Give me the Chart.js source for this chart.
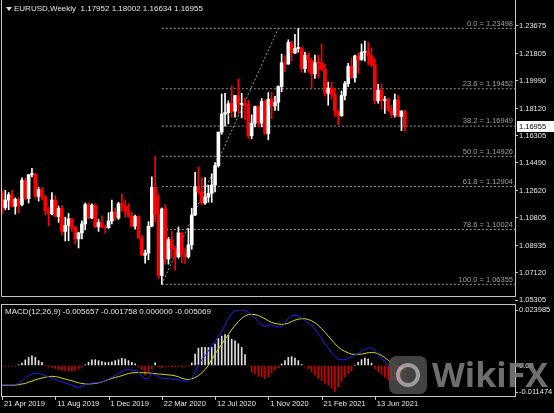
<!DOCTYPE html>
<html>
<head>
<meta charset="utf-8">
<title>EURUSD Weekly</title>
<script src="https://cdn.jsdelivr.net/npm/chart.js@4.4.1/dist/chart.umd.min.js"></script>
<style>
  html, body { margin: 0; padding: 0; background: #000; }
  body { width: 554px; height: 413px; position: relative; overflow: hidden; font-family: "Liberation Sans", Arial, sans-serif; }
  canvas { position: absolute; left: 0; }
  #priceChart { top: 0; }
  #macdChart { top: 300px; }
  .hdr { position: absolute; color: #e6e6e6; font-size: 8px; line-height: 10px; white-space: pre; }
  .tri { position: absolute; left: 6px; top: 7px; width: 0; height: 0;
         border-left: 3px solid transparent; border-right: 3px solid transparent; border-top: 4px solid #e0e0e0; }
  #wmLogo { position: absolute; left: 389px; top: 356px; width: 38px; height: 38px; border-radius: 7px;
            background: #4e4e4e; opacity: 0.85; }
  #wmLogo .ring { position: absolute; left: 7px; top: 7px; width: 16px; height: 16px; border-radius: 50%;
                  border: 4px solid #b8b8b8; }
  #wmText { position: absolute; left: 432px; top: 357px; font: bold 34px "Open Sans", sans-serif; line-height: 34px;
            color: #7a7a7a; opacity: 0.9; }
</style>
</head>
<body>
<canvas id="priceChart" width="554" height="306"></canvas>
<canvas id="macdChart" width="554" height="113"></canvas>
<div class="tri"></div>
<div class="hdr" style="left:14px;top:4px">EURUSD,Weekly  1.17952 1.18002 1.16634 1.16955</div>
<div class="hdr" style="left:5px;top:307px">MACD(12,26,9) -0.005657 -0.001758 0.000000 -0.005069</div>
<div id="wmLogo"><div class="ring"></div></div>
<div id="wmText">WikiFX</div>

<script>
// Weekly EURUSD candles, week of 21 Apr 2019 .. week of 15 Aug 2021
const opens = [
  1.1245, 1.1150, 1.1200, 1.1235, 1.1158, 1.1205, 1.1170, 1.1333, 1.1210, 1.1370,
  1.1372, 1.1225, 1.1270, 1.1220, 1.1128, 1.1108, 1.1200, 1.1090, 1.1145, 1.0990,
  1.1030, 1.1075, 1.1015, 1.0940, 1.0980, 1.1040, 1.1170, 1.1080, 1.1165, 1.1020,
  1.1050, 1.1020, 1.1015, 1.1060, 1.1120, 1.1080, 1.1175, 1.1160, 1.1120, 1.1090,
  1.1025, 1.1090, 1.0945, 1.0830, 1.0845, 1.1025, 1.1285, 1.1105, 1.0695, 1.1140,
  1.0805, 1.0935, 1.0875, 1.0820, 1.0980, 1.0840, 1.0820, 1.0900, 1.1100, 1.1290,
  1.1255, 1.1180, 1.1220, 1.1245, 1.1300, 1.1430, 1.1655, 1.1775, 1.1785, 1.1845,
  1.1795, 1.1900, 1.1840, 1.1845, 1.1840, 1.1630, 1.1715, 1.1825, 1.1715, 1.1860,
  1.1645, 1.1875, 1.1830, 1.1855, 1.1960, 1.2120, 1.2110, 1.2255, 1.2185, 1.2215,
  1.2220, 1.2080, 1.2170, 1.2135, 1.2045, 1.2120, 1.2120, 1.2075, 1.1915, 1.1950,
  1.1905, 1.1795, 1.1765, 1.1900, 1.1980, 1.2095, 1.2020, 1.2165, 1.2140, 1.2190,
  1.2195, 1.2165, 1.2105, 1.1865, 1.1935, 1.1865, 1.1875, 1.1805, 1.1770, 1.1870,
  1.1760, 1.17952
];
const highs = [
  1.1264, 1.1265, 1.1250, 1.1265, 1.1215, 1.1215, 1.1348, 1.1348, 1.1370, 1.1412,
  1.1380, 1.1286, 1.1285, 1.1230, 1.1150, 1.1250, 1.1230, 1.1160, 1.1165, 1.1085,
  1.1110, 1.1075, 1.1025, 1.0985, 1.1060, 1.1180, 1.1180, 1.1175, 1.1175, 1.1070,
  1.1095, 1.1030, 1.1115, 1.1200, 1.1145, 1.1185, 1.1240, 1.1200, 1.1175, 1.1120,
  1.1100, 1.1095, 1.0965, 1.0865, 1.1055, 1.1355, 1.1495, 1.1235, 1.1147, 1.1170,
  1.0950, 1.0990, 1.0890, 1.1020, 1.0980, 1.0875, 1.1010, 1.1145, 1.1385, 1.1420,
  1.1350, 1.1350, 1.1300, 1.1375, 1.1450, 1.1655, 1.1910, 1.1915, 1.1865, 1.1965,
  1.1900, 1.2011, 1.1915, 1.1883, 1.1870, 1.1770, 1.1830, 1.1830, 1.1880, 1.1870,
  1.1920, 1.1920, 1.1895, 1.1965, 1.2177, 1.2165, 1.2273, 1.2265, 1.2310, 1.2350,
  1.2220, 1.2190, 1.2185, 1.2150, 1.2170, 1.2170, 1.2245, 1.2110, 1.1990, 1.1990,
  1.1945, 1.1800, 1.1930, 1.1995, 1.2115, 1.2150, 1.2170, 1.2185, 1.2245, 1.2265,
  1.2255, 1.2220, 1.2145, 1.1975, 1.1975, 1.1895, 1.1880, 1.1835, 1.1910, 1.1900,
  1.1800, 1.18002
];
const lows = [
  1.1111, 1.1135, 1.1135, 1.1155, 1.1105, 1.1115, 1.1160, 1.1200, 1.1180, 1.1355,
  1.1210, 1.1193, 1.1200, 1.1101, 1.1027, 1.1100, 1.1090, 1.1050, 1.0965, 1.0926,
  1.0927, 1.0990, 1.0905, 1.0879, 1.0940, 1.1000, 1.1075, 1.1075, 1.1015, 1.0990,
  1.1015, 1.0980, 1.1010, 1.1040, 1.1065, 1.1070, 1.1125, 1.1085, 1.1085, 1.1020,
  1.1005, 1.0945, 1.0830, 1.0777, 1.0800, 1.1020, 1.1055, 1.0675, 1.0636, 1.0770,
  1.0770, 1.0815, 1.0730, 1.0810, 1.0780, 1.0775, 1.0810, 1.0870, 1.1095, 1.1240,
  1.1170, 1.1170, 1.1185, 1.1185, 1.1255, 1.1420, 1.1640, 1.1695, 1.1710, 1.1755,
  1.1755, 1.1780, 1.1750, 1.1735, 1.1612, 1.1610, 1.1690, 1.1690, 1.1690, 1.1640,
  1.1603, 1.1745, 1.1800, 1.1800, 1.1925, 1.2060, 1.2110, 1.2130, 1.2180, 1.2190,
  1.2055, 1.2055, 1.2055, 1.1950, 1.2015, 1.2020, 1.2065, 1.1895, 1.1835, 1.1875,
  1.1760, 1.1705, 1.1760, 1.1870, 1.1960, 1.2015, 1.1990, 1.2050, 1.2135, 1.2130,
  1.2105, 1.2095, 1.1845, 1.1848, 1.1807, 1.1780, 1.1795, 1.1752, 1.1755, 1.1760,
  1.1665, 1.16634
];
const closes = [
  1.1150, 1.1200, 1.1235, 1.1158, 1.1205, 1.1170, 1.1333, 1.1210, 1.1370, 1.1372,
  1.1225, 1.1270, 1.1220, 1.1128, 1.1108, 1.1200, 1.1090, 1.1145, 1.0990, 1.1030,
  1.1075, 1.1015, 1.0940, 1.0980, 1.1040, 1.1170, 1.1080, 1.1165, 1.1020, 1.1050,
  1.1020, 1.1015, 1.1060, 1.1120, 1.1080, 1.1175, 1.1160, 1.1120, 1.1090, 1.1025,
  1.1090, 1.0945, 1.0830, 1.0845, 1.1025, 1.1285, 1.1105, 1.0695, 1.1140, 1.0805,
  1.0935, 1.0875, 1.0820, 1.0980, 1.0840, 1.0820, 1.0900, 1.1100, 1.1290, 1.1255,
  1.1180, 1.1220, 1.1245, 1.1300, 1.1430, 1.1655, 1.1775, 1.1785, 1.1845, 1.1795,
  1.1900, 1.1840, 1.1845, 1.1840, 1.1630, 1.1715, 1.1825, 1.1715, 1.1860, 1.1645,
  1.1875, 1.1830, 1.1855, 1.1960, 1.2120, 1.2110, 1.2255, 1.2185, 1.2215, 1.2220,
  1.2080, 1.2170, 1.2135, 1.2045, 1.2120, 1.2118, 1.2075, 1.1915, 1.1950, 1.1905,
  1.1795, 1.1765, 1.1900, 1.1980, 1.2095, 1.2020, 1.2165, 1.2140, 1.2190, 1.2195,
  1.2165, 1.2105, 1.1865, 1.1935, 1.1865, 1.1875, 1.1805, 1.1770, 1.1870, 1.1760,
  1.1795, 1.16955
];

// MACD(12,26,9) panel, one value per week
const macdMain = [
  -0.0083, -0.0083, -0.0083, -0.0083, -0.0082, -0.0078, -0.0066, -0.0052, -0.0042, -0.0037,
  -0.0035, -0.0035, -0.0038, -0.0044, -0.0049, -0.0055, -0.0061, -0.0066, -0.0071, -0.0076,
  -0.0080, -0.0086, -0.0092, -0.0096, -0.0090, -0.0082, -0.0078, -0.0076, -0.0075, -0.0073,
  -0.0071, -0.0066, -0.0059, -0.0051, -0.0044, -0.0035, -0.0028, -0.0020, -0.0018, -0.0020,
  -0.0021, -0.0027, -0.0047, -0.0059, -0.0056, -0.0035, -0.0041, -0.0049, -0.0055, -0.0056,
  -0.0056, -0.0059, -0.0061, -0.0062, -0.0065, -0.0069, -0.0066, -0.0055, -0.0030, 0.0000,
  0.0024, 0.0042, 0.0063, 0.0085, 0.0103, 0.0125, 0.0148, 0.0176, 0.0204, 0.0226,
  0.0237, 0.0239, 0.023985, 0.0238, 0.0230, 0.0219, 0.0204, 0.0190, 0.0176, 0.0169,
  0.0173, 0.0176, 0.0169, 0.0166, 0.0168, 0.0183, 0.0204, 0.0216, 0.0217, 0.0214,
  0.0204, 0.0193, 0.0185, 0.0173, 0.0158, 0.0137, 0.0117, 0.0094, 0.0075, 0.0055,
  0.0038, 0.0028, 0.0024, 0.0025, 0.0031, 0.0038, 0.0045, 0.0052, 0.0061, 0.0069,
  0.0075, 0.0075, 0.0066, 0.0049, 0.0032, 0.0014, -0.0001, -0.0016, -0.0030, -0.0041,
  -0.0049, -0.005657
];
const macdSignal = [
  -0.0085, -0.0085, -0.0085, -0.0085, -0.0085, -0.0083, -0.0080, -0.0078, -0.0072, -0.0068,
  -0.0062, -0.0058, -0.0054, -0.0051, -0.0048, -0.0047, -0.0048, -0.0051, -0.0055, -0.0059,
  -0.0063, -0.0066, -0.0071, -0.0075, -0.0078, -0.0080, -0.0080, -0.0079, -0.0078, -0.0075,
  -0.0072, -0.0066, -0.0061, -0.0056, -0.0052, -0.0048, -0.0044, -0.0039, -0.0035, -0.0032,
  -0.0031, -0.0031, -0.0031, -0.0032, -0.0032, -0.0034, -0.0035, -0.0037, -0.0038, -0.0039,
  -0.0041, -0.0042, -0.0045, -0.0049, -0.0055, -0.0059, -0.0061, -0.0058, -0.0052, -0.0044,
  -0.0032, -0.0018, 0.0001, 0.0027, 0.0049, 0.0071, 0.0092, 0.0113, 0.0134, 0.0155,
  0.0173, 0.0190, 0.0204, 0.0214, 0.0220, 0.0221, 0.0220, 0.0216, 0.0209, 0.0202,
  0.0193, 0.0186, 0.0182, 0.0179, 0.0178, 0.0179, 0.0183, 0.0190, 0.0196, 0.0200,
  0.0202, 0.0202, 0.0199, 0.0193, 0.0185, 0.0173, 0.0159, 0.0144, 0.0127, 0.0110,
  0.0094, 0.0080, 0.0069, 0.0061, 0.0054, 0.0049, 0.0048, 0.0048, 0.0049, 0.0052,
  0.0055, 0.0056, 0.0055, 0.0051, 0.0044, 0.0034, 0.0023, 0.0011, 0.0001, -0.0007,
  -0.0014, -0.001758
];
const macdHist = [
  -0.0003, -0.0003, -0.0003, -0.0003, -0.0003, 0.0003, 0.0010, 0.0024, 0.0035, 0.0042,
  0.0035, 0.0021, 0.0014, -0.0001, -0.0006, -0.0008, -0.0013, -0.0017, -0.0020, -0.0023,
  -0.0025, -0.0025, -0.0021, -0.0016, -0.0007, 0.0003, 0.0014, 0.0024, 0.0025, 0.0021,
  0.0017, 0.0013, 0.0013, 0.0016, 0.0021, 0.0025, 0.0031, 0.0028, 0.0021, 0.0014,
  0.0007, -0.0007, -0.0018, -0.0042, -0.0024, -0.0014, 0.0011, -0.0007, -0.0010, -0.0004,
  -0.0004, -0.0006, -0.0006, -0.0004, -0.0006, -0.0004, -0.0001, 0.0011, 0.0049, 0.0075,
  0.0078, 0.0078, 0.0078, 0.0078, 0.0092, 0.0117, 0.0127, 0.0134, 0.0131, 0.0113,
  0.0106, 0.0094, 0.0078, 0.0047, -0.0003, -0.0028, -0.0035, -0.0047, -0.0049, -0.0056,
  -0.0049, -0.0032, -0.0018, -0.0010, 0.0007, 0.0021, 0.0035, 0.0038, 0.0032, 0.0021,
  0.0004, -0.0003, -0.0014, -0.0028, -0.0042, -0.0056, -0.0066, -0.0078, -0.0085, -0.0099,
  -0.011474, -0.0092, -0.0071, -0.0049, -0.0035, -0.0024, 0.0001, 0.0014, 0.0025, 0.0032,
  0.0028, 0.0010, -0.0014, -0.0028, -0.0039, -0.0052, -0.0061, -0.0066, -0.0066, -0.0063,
  -0.0061, -0.005069
];

// axis ticks as printed on the chart
const priceTicks = [1.05305, 1.07120, 1.08935, 1.10805, 1.12620, 1.14490, 1.16305, 1.18120, 1.19990, 1.21805, 1.23675];
const macdTicks = [-0.011474, 0, 0.023985];
const macdTickLabels = ['-0.011474', '0.00', '0.023985'];
const dateTickIdx = [0, 16, 32, 48, 64, 80, 96, 112];
const dateTickLabels = ['21 Apr 2019', '11 Aug 2019', '1 Dec 2019', '22 Mar 2020', '12 Jul 2020', '1 Nov 2020', '21 Feb 2021', '13 Jun 2021'];

// Fibonacci retracement drawn from the March 2020 low
const fibRatios = [0.0, 23.6, 38.2, 50.0, 61.8, 78.6, 100.0];
const fibLevels = [1.23498, 1.19452, 1.16949, 1.14926, 1.12904, 1.10024, 1.06355];
const fibFrom = 48;
const fibTo = 83;
const lastPrice = 1.16955;

// visible window (bar index) and value ranges of the two panes
const xMin = -0.3, xMax = 154.1;
const priceMin = 1.05305, priceMax = 1.25329;

const FONT = '"Liberation Sans", Arial, sans-serif';
Chart.defaults.font.family = FONT;
Chart.defaults.font.size = 7.5;
Chart.defaults.color = '#e6e6e6';

const weeks = closes.map((_, i) => i);
const isBull = i => closes[i] >= opens[i];
const candleColor = ctx => isBull(ctx.dataIndex) ? '#ffffff' : '#ff0000';

const frameColor = '#c8c8c8';

const priceDecor = {
  id: 'priceDecor',
  afterDatasetsDraw(chart) {
    const { ctx, chartArea: a, scales: { y } } = chart;
    ctx.save();
    // fib level captions
    ctx.font = '7.5px ' + FONT;
    ctx.fillStyle = '#a0a0a0';
    ctx.textAlign = 'right';
    ctx.textBaseline = 'bottom';
    fibLevels.forEach((lvl, k) => {
      ctx.fillText(fibRatios[k].toFixed(1) + ' = ' + lvl.toFixed(5), a.right - 2, y.getPixelForValue(lvl) - 1);
    });
    // pane frame
    const bottom = a.bottom - 4;
    ctx.strokeStyle = frameColor;
    ctx.lineWidth = 1;
    ctx.beginPath();
    ctx.moveTo(a.left + 0.5, 0);
    ctx.lineTo(a.left + 0.5, bottom + 0.5);
    ctx.lineTo(a.right + 0.5, bottom + 0.5);
    ctx.lineTo(a.right + 0.5, 0);
    ctx.stroke();
    // last price marker
    const py = Math.round(y.getPixelForValue(lastPrice));
    ctx.fillStyle = '#ffffff';
    ctx.fillRect(a.right + 2, py - 5, 37, 11);
    ctx.fillStyle = '#000000';
    ctx.textAlign = 'left';
    ctx.textBaseline = 'middle';
    ctx.fillText(lastPrice.toFixed(5), a.right + 4, py + 0.5);
    ctx.restore();
  }
};

const macdDecor = {
  id: 'macdDecor',
  afterDatasetsDraw(chart) {
    const { ctx, chartArea: a, scales: { x } } = chart;
    const top = a.top - 6, bottom = a.bottom + 4;
    ctx.save();
    ctx.strokeStyle = frameColor;
    ctx.lineWidth = 1;
    ctx.strokeRect(a.left + 0.5, top + 0.5, a.right - a.left, bottom - top);
    dateTickIdx.forEach(i => {
      const px = Math.round(x.getPixelForValue(i)) + 0.5;
      ctx.beginPath();
      ctx.moveTo(px, bottom);
      ctx.lineTo(px, bottom + 4);
      ctx.stroke();
    });
    ctx.restore();
  }
};

const fibDatasets = fibLevels.map(lvl => ({
  type: 'line',
  data: [{ x: fibFrom, y: lvl }, { x: xMax, y: lvl }],
  borderColor: '#9a9a9a',
  borderWidth: 1,
  borderDash: [2, 2],
  pointRadius: 0
}));

new Chart(document.getElementById('priceChart'), {
  type: 'bar',
  data: {
    datasets: [
      {
        data: weeks.map(i => ({ x: i, y: [opens[i], closes[i]] })),
        backgroundColor: candleColor,
        barThickness: 3,
        minBarLength: 1,
        grouped: false
      },
      {
        data: weeks.map(i => ({ x: i, y: [lows[i], highs[i]] })),
        backgroundColor: candleColor,
        barThickness: 1,
        grouped: false
      },
      {
        type: 'line',
        data: [{ x: fibFrom, y: fibLevels[6] }, { x: fibTo, y: fibLevels[0] }],
        borderColor: '#9a9a9a',
        borderWidth: 1,
        borderDash: [2, 2],
        pointRadius: 0
      },
      ...fibDatasets
    ]
  },
  options: {
    responsive: false,
    animation: false,
    events: [],
    layout: { padding: { left: 1, top: 1, right: 0, bottom: 6 } },
    plugins: { legend: { display: false }, tooltip: { enabled: false } },
    scales: {
      x: { type: 'linear', display: false, min: xMin, max: xMax, offset: false },
      y: {
        position: 'right',
        min: priceMin,
        max: priceMax,
        afterBuildTicks: s => { s.ticks = priceTicks.map(v => ({ value: v })); },
        afterFit: s => { s.width = 39; s.paddingTop = 0; s.paddingBottom = 0; },
        ticks: { autoSkip: false, padding: 1, callback: v => v.toFixed(5) },
        grid: { drawOnChartArea: false, drawTicks: true, tickLength: 3, color: frameColor },
        border: { display: false }
      }
    }
  },
  plugins: [priceDecor]
});

new Chart(document.getElementById('macdChart'), {
  type: 'bar',
  data: {
    datasets: [
      {
        type: 'line',
        data: weeks.map(i => ({ x: i, y: macdMain[i] })),
        borderColor: '#1e1eff',
        borderWidth: 1,
        pointRadius: 0
      },
      {
        type: 'line',
        data: weeks.map(i => ({ x: i, y: macdSignal[i] })),
        borderColor: '#d8d800',
        borderWidth: 1,
        pointRadius: 0
      },
      {
        data: weeks.map(i => ({ x: i, y: macdHist[i] })),
        backgroundColor: ctx => macdHist[ctx.dataIndex] >= 0 ? '#e0e0e0' : '#d00000',
        barThickness: 1,
        grouped: false
      }
    ]
  },
  options: {
    responsive: false,
    animation: false,
    events: [],
    layout: { padding: { left: 1, top: 10, right: 0, bottom: 0 } },
    plugins: { legend: { display: false }, tooltip: { enabled: false } },
    scales: {
      x: {
        type: 'linear',
        min: xMin,
        max: xMax,
        offset: false,
        afterBuildTicks: s => { s.ticks = dateTickIdx.map(v => ({ value: v })); },
        afterFit: s => { s.height = 21; s.paddingLeft = 0; s.paddingRight = 0; },
        ticks: {
          autoSkip: false,
          maxRotation: 0,
          align: 'start',
          labelOffset: 2,
          padding: 7,
          callback: (v, i) => dateTickLabels[i]
        },
        grid: { display: false, drawTicks: false },
        border: { display: false }
      },
      y: {
        position: 'right',
        min: macdTicks[0],
        max: macdTicks[2],
        afterBuildTicks: s => { s.ticks = macdTicks.map(v => ({ value: v })); },
        afterFit: s => { s.width = 39; s.paddingTop = 0; s.paddingBottom = 0; },
        ticks: { autoSkip: false, padding: 1, callback: (v, i) => macdTickLabels[i] },
        grid: { drawOnChartArea: false, drawTicks: true, tickLength: 3, color: frameColor },
        border: { display: false }
      }
    }
  },
  plugins: [macdDecor]
});
</script>
</body>
</html>
